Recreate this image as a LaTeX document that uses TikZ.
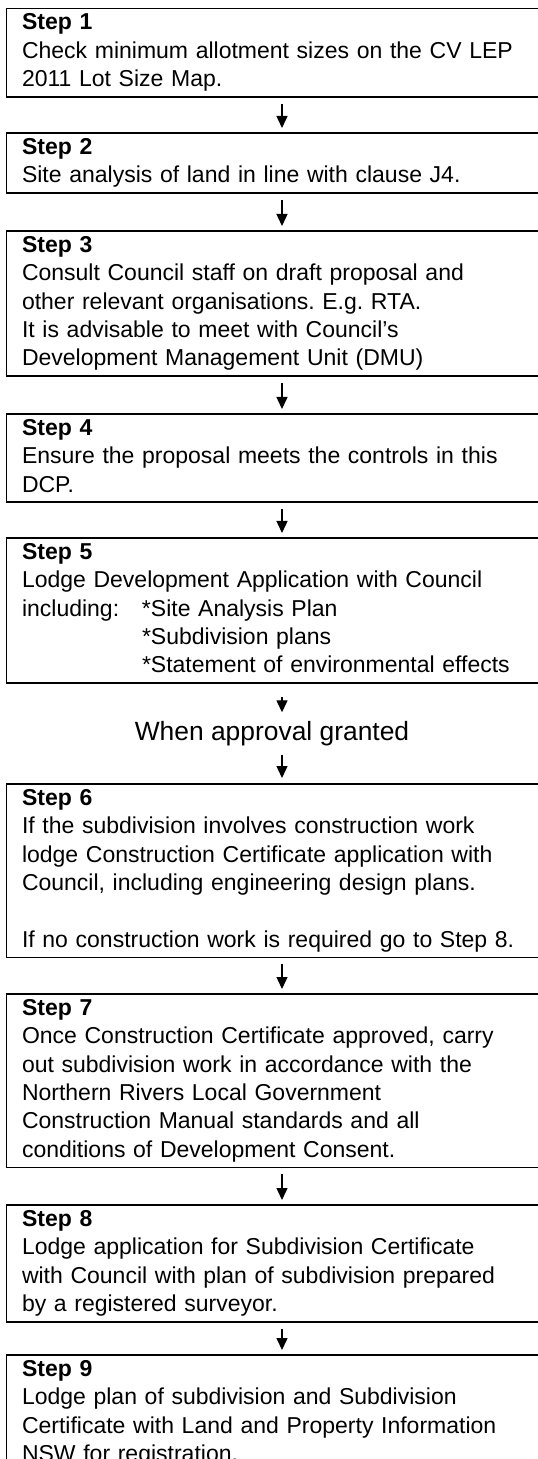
\documentclass[tikz,border=0pt]{standalone}
\usepackage{fontspec}
\setmainfont{Liberation Sans}
\usetikzlibrary{arrows.meta}
\frenchspacing

\begin{document}
\begin{tikzpicture}[x=0.5pt,y=-0.5pt,
		stepbox/.style={draw,line width=0.9pt,anchor=north west,outer sep=0pt,
			text width=260pt,inner xsep=7.75pt,inner ysep=0.75pt,
			font=\fontsize{11.5}{14.2}\selectfont,
			execute at begin node={\raggedright\strut},execute at end node=\strut},
		flow/.style={line width=0.7pt,-{Triangle[length=6pt,width=5.5pt]},
			shorten <=3.5pt,shorten >=2.5pt},
		note/.style={font=\fontsize{13.2}{15}\selectfont,inner sep=0pt}]
		\useasboundingbox (0,0) rectangle (537,1459);
		\node[stepbox] (s1) at (6.5,8.5) {\textbf{Step 1}\\Check minimum allotment sizes on the CV LEP\\2011 Lot Size Map.};
		\node[stepbox] (s2) at (6.5,133) {\textbf{Step 2}\\Site analysis of land in line with clause J4.};
		\node[stepbox] (s3) at (6.5,231) {\textbf{Step 3}\\Consult Council staff on draft proposal and\\other relevant organisations. E.g. RTA.\\It is advisable to meet with Council’s\\Development Management Unit (DMU)};
		\node[stepbox] (s4) at (6.5,414) {\textbf{Step 4}\\Ensure the proposal meets the controls in this\\DCP.};
		\node[stepbox] (s5) at (6.5,538) {\textbf{Step 5}\\Lodge Development Application with Council\\\makebox[60pt][l]{including:}*Site Analysis Plan\\\hspace*{60pt}*Subdivision plans\\\hspace*{60pt}*Statement of environmental effects};
		\node[note] (when) at (272,734) {When approval granted};
		\node[stepbox] (s6) at (6.5,784) {\textbf{Step 6}\\If the subdivision involves construction work\\lodge Construction Certificate application with\\Council, including engineering design plans.\\[14.2pt]If no construction work is required go to Step 8.};
		\node[stepbox] (s7) at (6.5,994) {\textbf{Step 7}\\Once Construction Certificate approved, carry\\out subdivision work in accordance with the\\Northern Rivers Local Government\\Construction Manual standards and all\\conditions of Development Consent.};
		\node[stepbox] (s8) at (6.5,1205) {\textbf{Step 8}\\Lodge application for Subdivision Certificate\\with Council with plan of subdivision prepared\\by a registered surveyor.};
		\node[stepbox] (s9) at (6.5,1355) {\textbf{Step 9}\\Lodge plan of subdivision and Subdivision\\Certificate with Land and Property Information\\NSW for registration.};
		\draw[flow] (s1.south) -- (s2.north);
		\draw[flow] (s2.south) -- (s3.north);
		\draw[flow] (s3.south) -- (s4.north);
		\draw[flow] (s4.south) -- (s5.north);
		\draw[flow,shorten <=7pt,shorten >=4.5pt] (s5.south) -- (s5.south |- when.north);
		\draw[flow,shorten <=4pt,shorten >=3pt] (s6.north |- when.south) -- (s6.north);
		\draw[flow] (s6.south) -- (s7.north);
		\draw[flow] (s7.south) -- (s8.north);
		\draw[flow] (s8.south) -- (s9.north);
	\end{tikzpicture}
\end{document}
